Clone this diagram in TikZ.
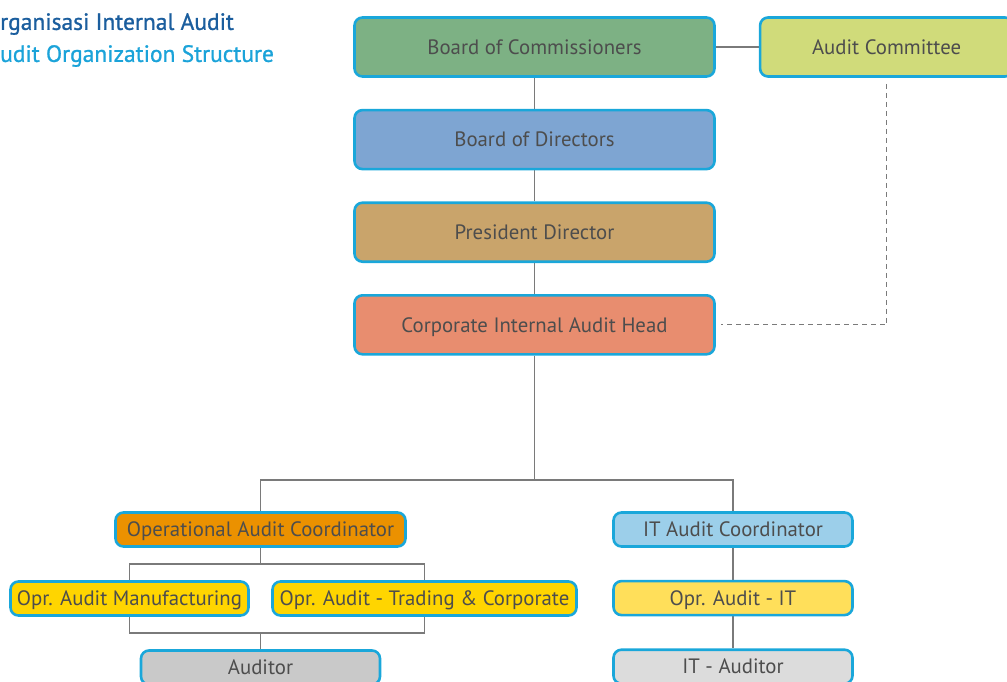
\documentclass[tikz,border=0pt]{standalone}
\usepackage{fontspec}
\setmainfont{PT Sans}
\usetikzlibrary{positioning, backgrounds}

\definecolor{boxrim}{HTML}{1AA7DA}
\definecolor{txtgray}{HTML}{4D4D4D}
\definecolor{linegray}{HTML}{7A7A7A}
\definecolor{titleblue}{HTML}{1B5E9E}
\definecolor{titlecyan}{HTML}{1BA3D9}
\definecolor{commgreen}{HTML}{7DB184}
\definecolor{cttlime}{HTML}{D0DB7A}
\definecolor{dirblue}{HTML}{7EA5D2}
\definecolor{prestan}{HTML}{C9A46B}
\definecolor{headsalmon}{HTML}{E88D6F}
\definecolor{opsorange}{HTML}{EB9100}
\definecolor{itsky}{HTML}{9CCFEA}
\definecolor{oprgold}{HTML}{FFD500}
\definecolor{oprlight}{HTML}{FFDF5A}
\definecolor{audgray}{HTML}{C9C9C9}
\definecolor{itaudgray}{HTML}{DCDCDC}

\begin{document}
\begin{tikzpicture}
   [
      x=1pt, y=-1pt,
      % basic unit box: rounded, cyan rim, grey text
      unit/.style={rectangle, draw=boxrim, line width=2.6pt, rounded corners=8pt, text=txtgray, font=\fontsize{20.8}{24}\selectfont, inner sep=0pt, text height=14.5pt, text depth=0pt},
      % top column boxes
      big unit/.style={unit, minimum width=360pt, minimum height=59pt},
      % lower level boxes
      small unit/.style={unit, minimum height=34pt},
      % connectors
      link/.style={draw=linegray, line width=1.2pt},
      dotted link/.style={link, dash pattern=on 5pt off 4pt},
      % heading lines
      heading/.style={anchor=west, inner sep=0pt, font=\fontsize{23.5}{27}\selectfont\addfontfeature{FakeBold=1}}
   ]
    \useasboundingbox (0,0) rectangle (1007,682);

    % =======================================================
    % Heading
    % =======================================================
    \node[heading, text=titleblue] (titleid) at (0,24) {rganisasi Internal Audit};
    \node[heading, text=titlecyan] (titleen) at (0,56) {udit Organization Structure};

    % =======================================================
    % Main column: Commissioners down to Audit Head
    % =======================================================
    \node[big unit, fill=commgreen] (comm) at (534.5,47) {Board of Commissioners};
    \node[big unit, fill=cttlime, minimum width=253pt, right=43pt of comm] (cttee) {Audit Committee};
    \node[big unit, fill=dirblue, below=31pt of comm] (dir) {Board of Directors};
    \node[big unit, fill=prestan, below=31pt of dir] (pres) {President Director};
    \node[big unit, fill=headsalmon, below=31pt of pres] (head) {Corporate Internal Audit Head};

    % =======================================================
    % Coordinators and their teams
    % =======================================================
    \node[small unit, fill=opsorange, minimum width=290pt] (opscoord) at (260.5,529.5) {Operational Audit Coordinator};
    \node[small unit, fill=itsky, minimum width=239pt] (itcoord) at (733,529.5) {IT Audit Coordinator};

    \node[small unit, fill=oprgold, minimum width=238pt] (oprmanu) at (129.5,598.5) {Opr. Audit Manufacturing};
    \node[small unit, fill=oprgold, minimum width=304pt] (oprtrade) at (424.5,598.5) {Opr. Audit - Trading \& Corporate};
    \node[small unit, fill=oprlight, minimum width=239pt, below=32pt of itcoord] (oprit) {Opr. Audit - IT};

    \node[small unit, fill=audgray, minimum width=239pt] (auditor) at (260.5,667.5) {Auditor};
    \node[small unit, fill=itaudgray, minimum width=239pt, below=32pt of oprit] (itauditor) {IT - Auditor};

    % branch points
    \coordinate (fork) at (534.5,480);
    \coordinate (opsfork) at (260.5,564);
    \coordinate (audfork) at (260.5,633);

    % =======================================================
    % Connectors (behind the boxes)
    % =======================================================
    \begin{pgfonlayer}{background}
      \draw[link] (comm) -- (cttee);
      \draw[link] (comm) -- (dir);
      \draw[link] (dir) -- (pres);
      \draw[link] (pres) -- (head);
      \draw[link] (head) -- (fork);
      \draw[link] (opscoord.north) |- (fork) -| (itcoord.north);

      \draw[link] (opscoord) -- (opsfork);
      \draw[link] (oprmanu.north) |- (opsfork) -| (oprtrade.north);
      \draw[link] (oprmanu.south) |- (audfork) -| (oprtrade.south);
      \draw[link] (audfork) -- (auditor);

      \draw[link] (itcoord) -- (oprit);
      \draw[link] (oprit) -- (itauditor);
    \end{pgfonlayer}

    % reporting line from the committee
    \draw[dotted link] (cttee.south) ++(0,6) |- ([xshift=5pt]head.east);

\end{tikzpicture}
\end{document}
